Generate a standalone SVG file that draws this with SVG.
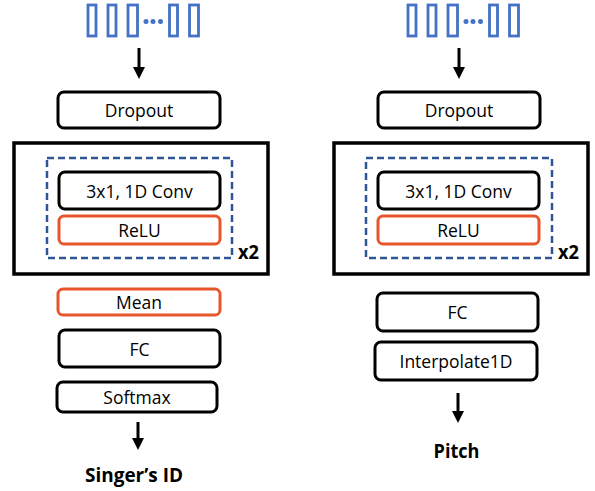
<svg xmlns="http://www.w3.org/2000/svg" width="595" height="491" viewBox="0 0 595 491">
<defs>
<style>
.blk{fill:#fff;stroke:#000;stroke-width:3}
.org{fill:#fff;stroke:#E9552B;stroke-width:3}
.outer{fill:#fff;stroke:#000;stroke-width:3.5}
.dash{fill:none;stroke:#2F5597;stroke-width:2.5;stroke-dasharray:7,4}
.tok{fill:none;stroke:#4472C4;stroke-width:2.8}
.dot{fill:#4472C4}
.lbl{font-family:"Open Sans","Liberation Sans",sans-serif;font-size:17.5px;fill:#000;text-anchor:middle;dominant-baseline:central}
.bold{font-family:"Open Sans","Liberation Sans",sans-serif;font-size:19.5px;font-weight:bold;fill:#000;text-anchor:middle}
.arr{stroke:#000;stroke-width:3;fill:none}
</style>
</defs>
<g id="input-left">
<rect class="tok" x="88" y="5" width="8" height="31"/>
<rect class="tok" x="108" y="5" width="8" height="31"/>
<rect class="tok" x="128" y="5" width="9.5" height="31"/>
<circle class="dot" cx="146" cy="21.5" r="2.5"/>
<circle class="dot" cx="153" cy="21.5" r="2.5"/>
<circle class="dot" cx="160.5" cy="21.5" r="2.5"/>
<rect class="tok" x="169.5" y="5" width="8" height="31"/>
<rect class="tok" x="189.5" y="5" width="9" height="31"/>
</g>
<g id="input-right">
<rect class="tok" x="408" y="5" width="8" height="31"/>
<rect class="tok" x="428" y="5" width="8" height="31"/>
<rect class="tok" x="448" y="5" width="9.5" height="31"/>
<circle class="dot" cx="466" cy="21.5" r="2.5"/>
<circle class="dot" cx="473" cy="21.5" r="2.5"/>
<circle class="dot" cx="480.5" cy="21.5" r="2.5"/>
<rect class="tok" x="489.5" y="5" width="8" height="31"/>
<rect class="tok" x="509.5" y="5" width="9" height="31"/>
</g>
<g id="connectors">
<line class="arr" x1="139" y1="48" x2="139" y2="68"/>
<polygon points="133,67 145,67 139,79"/>
<line class="arr" x1="459" y1="48" x2="459" y2="68"/>
<polygon points="453,67 465,67 459,79"/>
<line class="arr" x1="138" y1="422" x2="138" y2="439"/>
<polygon points="132,438 144,438 138,450"/>
<line class="arr" x1="458" y1="393" x2="458" y2="412"/>
<polygon points="452,411 464,411 458,423"/>
</g>
<g id="dropout-left">
<rect class="blk" x="58" y="92" width="162" height="36" rx="6"/>
<text class="lbl" x="139" y="110">Dropout</text>
</g>
<g id="block-left">
<rect class="outer" x="14" y="143" width="254" height="131"/>
<rect class="dash" x="47" y="158" width="185" height="100"/>
<text class="bold" x="248.5" y="258.5" textLength="21" lengthAdjust="spacingAndGlyphs">x2</text>
</g>
<g id="conv-left">
<rect class="blk" x="59" y="172" width="161" height="37" rx="6"/>
<text class="lbl" x="139.5" y="190.5">3x1, 1D Conv</text>
</g>
<g id="relu-left">
<rect class="org" x="59" y="216" width="161" height="28" rx="5"/>
<text class="lbl" x="139.5" y="230">ReLU</text>
</g>
<g id="mean-left">
<rect class="org" x="58" y="289" width="162" height="26" rx="5"/>
<text class="lbl" x="139" y="302">Mean</text>
</g>
<g id="fc-left">
<rect class="blk" x="59" y="330" width="161" height="37" rx="6"/>
<text class="lbl" x="139.5" y="348.5">FC</text>
</g>
<g id="softmax-left">
<rect class="blk" x="57" y="382" width="160" height="30" rx="6"/>
<text class="lbl" x="137" y="397">Softmax</text>
</g>
<g id="output-left">
<text class="bold" x="134" y="482" textLength="98" lengthAdjust="spacingAndGlyphs">Singer’s ID</text>
</g>
<g id="dropout-right">
<rect class="blk" x="378" y="92" width="162" height="36" rx="6"/>
<text class="lbl" x="459" y="110">Dropout</text>
</g>
<g id="block-right">
<rect class="outer" x="334" y="143" width="254" height="131"/>
<rect class="dash" x="366" y="158" width="186" height="100"/>
<text class="bold" x="568.5" y="258.5" textLength="21" lengthAdjust="spacingAndGlyphs">x2</text>
</g>
<g id="conv-right">
<rect class="blk" x="378" y="172" width="161" height="37" rx="6"/>
<text class="lbl" x="458.5" y="190.5">3x1, 1D Conv</text>
</g>
<g id="relu-right">
<rect class="org" x="378" y="216" width="161" height="28" rx="5"/>
<text class="lbl" x="458.5" y="230">ReLU</text>
</g>
<g id="fc-right">
<rect class="blk" x="377" y="293" width="161" height="38" rx="6"/>
<text class="lbl" x="457.5" y="312">FC</text>
</g>
<g id="interp-right">
<rect class="blk" x="375" y="342" width="162" height="38" rx="6"/>
<text class="lbl" x="456" y="361">Interpolate1D</text>
</g>
<g id="output-right">
<text class="bold" x="456.5" y="458" textLength="46" lengthAdjust="spacingAndGlyphs">Pitch</text>
</g>
</svg>
